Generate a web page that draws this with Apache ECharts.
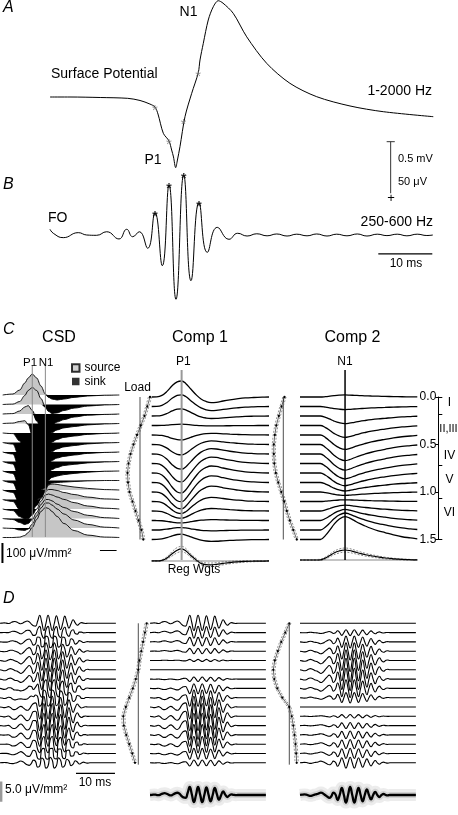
<!DOCTYPE html>
<html><head><meta charset="utf-8">
<script src="https://cdn.jsdelivr.net/npm/echarts@6.0.0/dist/echarts.min.js"></script>
<style>html,body{margin:0;padding:0;background:#fff;}#chart{width:458px;height:815px;}</style>
</head><body><div id="chart"></div>
<script>
// ================= DATA =================
// Panel A: surface potential, t (ms), potential (mV, positive plotted downward)
const aT = [0,3.7,9.3,14.39,16.67,18.5,19.44,20.0,20.99,22.04,22.53,22.87,23.27,23.6,24.07,25.0,26.24,27.46,27.78,28.39,29.31,30.24,31.17,32.04,33.94,36.43,40.13,44.44,49.39,55.56,61.72,70.98];
const aV = [0,0,0.005,0.013,0.034,0.069,0.098,0.167,0.356,0.431,0.52,0.588,0.693,0.618,0.487,0.193,-0.036,-0.238,-0.363,-0.526,-0.755,-0.885,-0.944,-0.92,-0.82,-0.59,-0.33,-0.134,-0.003,0.088,0.144,0.193];
const aStarT = [19.44,22.04,24.7,27.46];
const aStarV = [0.098,0.431,0.23,-0.238];
// Panel B: fast oscillation (250-600 Hz), t (ms), µV
const bT = [0,0.61,2.46,5.24,6.8,8.65,10.5,12.78,14.2,15.31,16.54,18.09,19.44,20.8,22.04,23.33,24.76,26.11,27.59,29.13,30.98,33.15,34.76,36.5,38.3,40.2,42.0,43.9,45.7,47.6,49.4,51.3,53.1,55.0,56.9,58.7,60.6,62.4,64.3,66.1,68.0,69.8,70.9];
const bV = [5.6,1.7,-2.6,2.3,0,-0.3,3.2,-3.9,5.6,-1.7,3.2,-13.0,21.9,-30.1,49.0,-63.0,58.8,-44.8,31.7,-17.0,7.5,-4.2,1.7,-1,1.2,-0.8,1,-1,0.8,-0.8,1,-1,0.8,-0.8,1,-1,0.8,-0.6,0.8,-0.8,0.8,-0.5,0];
const bStarT = [19.44,22.04,24.76,27.59];
const bStarV = [21.9,49.0,58.8,31.7];
// Panel C: CSD rows (µV/mm², source > 0, sink < 0), depth 0.0 .. 1.5 mm
const csdT = [0,6,10,13,15,17.4,20,22.5,25.1,27,29,32,36,42,50,60,68.6];
const csd00 = [0,5,25,60,85,105,85,45,5,-12,-20,-25,-20,-12,-5,-1,0];
const csd01 = [0,2,15,45,70,85,70,30,-15,-35,-45,-42,-30,-18,-8,-2,0];
const csd02 = [0,2,15,35,42,18,-35,-70,-78,-65,-55,-40,-28,-15,-6,-2,0];
const csd03 = [0,2,10,14,-5,-60,-120,-150,-140,-65,-45,-32,-22,-15,-7,-2,0];
const csd04 = [0,-3,-40,-100,-135,-165,-180,-180,-140,-65,-45,-32,-22,-15,-7,-2,0];
const csd05 = [0,-8,-80,-135,-160,-180,-190,-185,-140,-65,-45,-32,-22,-15,-7,-2,0];
const csd06 = [0,-10,-90,-140,-160,-175,-180,-170,-130,-60,-42,-30,-22,-15,-7,-2,0];
const csd07 = [0,-12,-90,-135,-155,-165,-165,-155,-115,-55,-40,-30,-20,-14,-7,-2,0];
const csd08 = [0,-12,-85,-125,-140,-145,-145,-130,-95,-45,-32,-25,-18,-12,-6,-1,0];
const csd09 = [0,-12,-80,-115,-125,-125,-115,-90,-50,-20,-12,-10,-8,-5,-2,0,0];
const csd10 = [0,-12,-70,-95,-100,-90,-70,-30,10,25,30,28,22,15,8,2,0];
const csd11 = [0,-10,-50,-70,-70,-55,-30,10,40,50,50,45,35,25,12,3,0];
const csd12 = [0,-8,-38,-50,-48,-30,0,40,70,75,70,60,48,32,15,4,0];
const csd13 = [0,-5,-20,-30,-25,-5,30,70,95,95,88,72,55,35,16,4,0];
const csd14 = [0,-2,-10,-12,-5,20,60,100,125,125,115,95,70,40,18,4,0];
const csd15 = [0,0,2,10,25,50,90,130,150,145,130,105,70,35,12,2,0];
const csdRows = [csd00,csd01,csd02,csd03,csd04,csd05,csd06,csd07,csd08,csd09,csd10,csd11,csd12,csd13,csd14,csd15];
const depths = [0,0.1,0.2,0.3,0.4,0.5,0.6,0.7,0.8,0.9,1.0,1.1,1.2,1.3,1.4,1.5];
// Panel C: components (waveform x load)
const compT = [0,3,6,9,12,15,17.6,20,23,26.5,29,32,35,38,42,46,50,55,60,65,69];
const comp1Wave = [0,0.01,0.1,0.35,0.7,0.95,1.0,0.85,0.5,0.1,-0.12,-0.28,-0.35,-0.33,-0.25,-0.18,-0.12,-0.06,-0.03,-0.01,0];
const comp2Wave = [0,0,0,0,0,0.18,0.42,0.66,0.88,1.0,0.94,0.82,0.7,0.6,0.48,0.38,0.3,0.2,0.12,0.07,0.03];
const comp1Load = [10,7.3,4.5,0.8,-3,-6.5,-9.5,-11.5,-12.5,-12,-10.5,-7.5,-4.5,-1.5,1.5,3.3];
const comp2Load = [1.2,-1.8,-4.5,-7,-8.5,-9.5,-9.5,-9,-7.5,-5,-2,1,3.5,6.5,10,13.5];
const loadCI = 1.6;
const regW1 = [0,0,0.05,0.25,0.6,0.9,1.0,0.85,0.45,0.05,-0.2,-0.3,-0.32,-0.28,-0.2,-0.13,-0.08,-0.04,-0.02,-0.01,0];
const regW1ci = [0.02,0.02,0.04,0.1,0.18,0.22,0.22,0.2,0.15,0.12,0.12,0.14,0.15,0.14,0.12,0.1,0.08,0.06,0.04,0.03,0.02];
const regW2 = [0,0,0,0,0.02,0.2,0.45,0.7,0.9,1.0,0.95,0.82,0.68,0.55,0.42,0.3,0.2,0.12,0.06,0.03,0.01];
const regW2ci = [0.02,0.03,0.04,0.05,0.06,0.1,0.14,0.17,0.2,0.2,0.2,0.18,0.16,0.14,0.12,0.1,0.08,0.06,0.04,0.03,0.02];
const layerNames = ['I','II,III','IV','V','VI'];
const layerEdges = [0,0.18,0.72,1.07,1.5];
// Panel D: fast-oscillation CSD components
const dT = [0,0.55,1.1,1.65,2.2,2.75,3.3,3.85,4.4,4.95,5.5,6.05,6.6,7.15,7.7,8.25,8.8,9.35,9.9,10.45,11,11.55,12.1,12.65,13.2,13.75,14.3,14.85,15.4,15.95,16.5,17.05,17.6,18.15,18.7,19.25,19.8,20.35,20.9,21.45,22,22.55,23.1,23.65,24.2,26,28,30.5];
const fo1Wave = [0,0.02,0.05,0.02,-0.03,0.05,0.18,0.22,0.15,0.02,-0.05,0.05,0.2,0.28,0.18,-0.1,-0.3,-0.35,0.25,1.0,0.1,-0.9,0,1.0,0.05,-0.9,0,0.95,0.05,-0.8,0,0.9,0.1,-0.6,-0.05,0.45,0.05,-0.25,-0.05,0.08,0.02,-0.02,0,0,0,0,0,0];
const fo2Wave = [0,0.03,0.06,0.04,-0.04,-0.08,-0.04,0.04,0.08,0.16,0.24,0.16,0,-0.16,-0.28,-0.12,0.24,0.05,-0.5,0,0.72,0,-0.76,0,0.8,0,-0.76,0,0.72,0,-0.64,0,0.56,0,-0.44,0,0.32,0,-0.2,0,0.1,0,-0.04,0,0,0,0,0];
const fo1Load = [8.4,6.6,4.8,3.0,1.2,0,-2.5,-5.5,-9,-12.5,-15,-14.5,-12,-9,-6,-3.3];
const fo2Load = [0,-4,-8,-11.5,-14.5,-16,-15,-12,-7,0,2.4,4,5.2,6.2,6.9,7.4];

// ================= BUILD =================
const FONT = '"Liberation Sans", Arial, Helvetica, sans-serif';
const grids = [], xAxes = [], yAxes = [], series = [];
function addGrid(left, top, width, height, x0, x1, yTop, yBot) {
  const i = grids.length;
  grids.push({left, top, width, height, show:false});
  xAxes.push({type:'value', gridIndex:i, min:x0, max:x1, show:false, splitLine:{show:false}});
  yAxes.push({type:'value', gridIndex:i, min:Math.min(yTop,yBot), max:Math.max(yTop,yBot), inverse: yTop < yBot, show:false, splitLine:{show:false}});
  return i;
}
function addLine(g, data, o) {
  o = o || {};
  const s = {type:'line', xAxisIndex:g, yAxisIndex:g, data, symbol:'none', silent:true, animation:false, clip:false,
    smooth: o.smooth || 0, z: o.z || 2,
    lineStyle: Object.assign({color:'#000', width:1}, o.lineStyle || {})};
  if (o.smoothMonotone) s.smoothMonotone = o.smoothMonotone;
  if (o.areaStyle) s.areaStyle = o.areaStyle;
  if (o.symbol) { s.symbol = o.symbol; s.symbolSize = o.symbolSize; s.itemStyle = o.itemStyle; s.showSymbol = true; s.showAllSymbol = true; }
  series.push(s);
  return series.length - 1;
}
function addStars(g, xs, ys, color, size, weight, dy) {
  series.push({type:'scatter', xAxisIndex:g, yAxisIndex:g, data: xs.map((x,i)=>[x, ys[i]]), symbolSize:0, silent:true, animation:false, z:5,
    label:{show:true, position:'inside', formatter:'*', color, fontSize:size, fontFamily:FONT, fontWeight:weight, offset:[0,dy]}});
}
const zip = (xs, ys) => xs.map((x,i)=>[x, ys[i]]);

// ---- Panel A ----
const gA = addGrid(50, 0, 383, 200, 0, 70.93, -0.951, 1.0098);
addLine(gA, zip(aT, aV), {smooth:0.3, lineStyle:{width:1}});
addStars(gA, aStarT, aStarV, '#777', 15, 'normal', 4);
addLine(gA, [[63.09,0.438],[63.09,0.944]], {lineStyle:{color:'#333', width:1}});
addLine(gA, [[62.35,0.438],[63.85,0.438]], {lineStyle:{color:'#333', width:1}});

// ---- Panel B ----
const gB = addGrid(50, 150, 383, 170, 0, 70.93, 83.33, -83.33);
addLine(gB, zip(bT, bV), {smooth:0.5, lineStyle:{width:1}});
addStars(gB, bStarT, bStarV, '#000', 14, 'bold', 4);
addLine(gB, [[60.8,-18.6],[70.8,-18.6]], {lineStyle:{width:1.2}});

// ---- Panel C: CSD (sink = black fill below row baseline, source = grey fill above) ----
let gLastCsd = 0;
csdRows.forEach((row, i) => {
  const yb = 395 + 95 * depths[i];
  const g = addGrid(2.7, yb - 60, 116.6, 120, 0, 68.6, 300, -300);
  gLastCsd = g;
  const hidden = {width:0, opacity:0};
  addLine(g, zip(csdT, row.map(v => Math.min(v, 0))), {smooth:0.35, smoothMonotone:'x', lineStyle:hidden, areaStyle:{color:'#000', opacity:1}});
  addLine(g, zip(csdT, row.map(v => Math.max(v, 0))), {smooth:0.35, smoothMonotone:'x', lineStyle:hidden, areaStyle:{color:'#c6c6c6', opacity:1}});
  addLine(g, zip(csdT, row), {smooth:0.35, smoothMonotone:'x', lineStyle:{width:0.9}});
});
addLine(gLastCsd, [[-0.15,-27.5],[-0.15,-127.5]], {lineStyle:{width:2}}); // 100 µV/mm² bar
const gCo = addGrid(2.7, 355, 116.6, 200, 0, 68.6, -0.42105, 1.68421);
addLine(gCo, [[17.4,-0.316],[17.4,1.495]], {lineStyle:{color:'#8a8a8a', width:1}, z:3});
addLine(gCo, [[25.1,-0.316],[25.1,1.495]], {lineStyle:{color:'#8a8a8a', width:1}, z:3});
addLine(gCo, [[57.2,1.637],[67.0,1.637]], {lineStyle:{width:1}});
series.push({type:'scatter', name:'source', xAxisIndex:gCo, yAxisIndex:gCo, data:[], itemStyle:{color:'#c6c6c6', borderColor:'#000', borderWidth:0.7}});
series.push({type:'scatter', name:'sink', xAxisIndex:gCo, yAxisIndex:gCo, data:[], itemStyle:{color:'#000'}});

// ---- Panel C: Comp 1 & Comp 2 ----
function compPanel(left, wave, load, k, lineT, lineColor, lineW, reg, regCi, regBase, regScale) {
  const g = addGrid(left, 340, 117.3, 240, 0, 69, -0.6, 1.9263);
  load.forEach((L, i) => {
    addLine(g, compT.map((t,k2) => [t, depths[i] - L * wave[k2] * k / 95]), {smooth:0.4, lineStyle:{width:1.3}});
  });
  addLine(g, [[0,regBase],[69,regBase]], {lineStyle:{color:'#b0b0b0', width:1.5}});
  addLine(g, compT.map((t,k2) => [t, regBase - (reg[k2] + regCi[k2]) * regScale / 95]), {smooth:0.4, lineStyle:{color:'#555', width:0.7, type:[2,1.5]}});
  addLine(g, compT.map((t,k2) => [t, regBase - (reg[k2] - regCi[k2]) * regScale / 95]), {smooth:0.4, lineStyle:{color:'#555', width:0.7, type:[2,1.5]}});
  addLine(g, compT.map((t,k2) => [t, regBase - reg[k2] * regScale / 95]), {smooth:0.4, lineStyle:{width:1.2}});
  addLine(g, [[lineT,-0.284],[lineT,1.716]], {lineStyle:{color:lineColor, width:lineW}, z:4});
  return g;
}
compPanel(151.7, comp1Wave, comp1Load, 1.6, 17.6, '#999', 2, regW1, regW1ci, 1.726, 12);
compPanel(300, comp2Wave, comp2Load, 1.7, 26.5, '#000', 1.5, regW2, regW2ci, 1.716, 10);

function loadPanel(zeroX, top, height, yTop, yBot, load, lineEnd) {
  const g = addGrid(zeroX - 25, top, 50, height, -25, 25, yTop, yBot);
  addLine(g, [[0,0],[0,lineEnd]], {lineStyle:{color:'#222', width:0.8}});
  addLine(g, load.map((L,i)=>[L + loadCI, depths[i]]), {lineStyle:{color:'#666', width:0.7, type:[2,1.5]}});
  addLine(g, load.map((L,i)=>[L - loadCI, depths[i]]), {lineStyle:{color:'#666', width:0.7, type:[2,1.5]}});
  addLine(g, load.map((L,i)=>[L, depths[i]]), {lineStyle:{color:'#000', width:0.6}, symbol:'circle', symbolSize:2.3, itemStyle:{color:'#000'}});
}
loadPanel(140, 340, 240, -0.6, 1.9263, comp1Load, 1.5);
loadPanel(283.3, 340, 240, -0.6, 1.9263, comp2Load, 1.5);

// depth axis
const gDepth = grids.length;
grids.push({left:438.3, top:397, width:1, height:142.5});
xAxes.push({type:'value', gridIndex:gDepth, show:false, min:0, max:1});
yAxes.push({type:'value', gridIndex:gDepth, min:0, max:1.5, interval:0.5, inverse:true,
  axisLine:{show:true, lineStyle:{color:'#000', width:1}}, axisTick:{show:true, length:3, lineStyle:{color:'#000'}},
  splitLine:{show:false}, axisLabel:{show:true, margin:2, fontSize:12, fontFamily:FONT, color:'#000', formatter:(v)=>v.toFixed(1)}});
const gLayer = grids.length;
grids.push({left:438.3, top:397, width:1, height:142.5});
xAxes.push({type:'value', gridIndex:gLayer, show:false, min:0, max:1});
yAxes.push({type:'value', gridIndex:gLayer, min:0, max:1.5, interval:100, inverse:true,
  axisLine:{show:false}, axisTick:{show:true, inside:true, length:4, customValues:layerEdges, lineStyle:{color:'#000'}},
  splitLine:{show:false}, axisLabel:{show:false}});

// ---- Panel D ----
const KD = 0.95, DPX = 93;
const dTop = -0.358, dBot = 2.0075;
const gDL = addGrid(0, 590, 116, 220, 0, 30.53, dTop, dBot);
depths.forEach((d, i) => {
  addLine(gDL, dT.map((t,k)=>[t, d - (fo1Load[i]*fo1Wave[k] + fo2Load[i]*fo2Wave[k]) * KD / DPX]), {smooth:0.5, lineStyle:{width:1.1}});
});
addLine(gDL, [[20.0,1.613],[30.26,1.613]], {lineStyle:{width:1.2}});
addLine(gDL, [[0.3,1.70],[0.3,1.92]], {lineStyle:{color:'#999', width:2.5}});
function foPanel(left, wave, load, avgScale) {
  const g = addGrid(left, 590, 116, 220, 0, 30.53, dTop, dBot);
  depths.forEach((d, i) => {
    addLine(g, dT.map((t,k)=>[t, d - load[i]*wave[k]*KD/DPX]), {smooth:0.5, lineStyle:{width:1.1}});
  });
  const avg = dT.map((t,k)=>[t, 1.846 - wave[k]*avgScale/DPX]);
  addLine(g, avg, {smooth:0.5, lineStyle:{color:'rgba(120,120,120,0.14)', width:12}});
  addLine(g, avg, {smooth:0.5, lineStyle:{color:'rgba(120,120,120,0.22)', width:6}});
  addLine(g, avg, {smooth:0.5, lineStyle:{color:'#000', width:2.3}});
}
foPanel(150, fo1Wave, fo1Load, 8);
foPanel(300, fo2Wave, fo2Load, 10);
loadPanel(138.3, 590, 220, dTop, dBot, fo1Load, 1.52);
loadPanel(289.3, 590, 220, dTop, dBot, fo2Load, 1.52);

// ================= TEXT =================
const texts = [
  ['A', 3, 8, 16, 'left', 'italic'],
  ['N1', 188.5, 12, 14],
  ['Surface Potential', 51, 74, 14, 'left'],
  ['1-2000 Hz', 432, 91, 14, 'right'],
  ['P1', 153, 160, 14],
  ['0.5 mV', 398, 159, 11, 'left'],
  ['50 \u03bcV', 398, 181.5, 11, 'left'],
  ['+', 391, 198.5, 13],
  ['B', 3, 185, 16, 'left', 'italic'],
  ['FO', 48, 218, 14, 'left'],
  ['250-600 Hz', 433, 222.5, 14, 'right'],
  ['10 ms', 406, 264, 12],
  ['C', 3, 330, 16, 'left', 'italic'],
  ['CSD', 59, 338, 16],
  ['Comp 1', 200, 338, 16],
  ['Comp 2', 352.5, 338, 16],
  ['P1', 30, 363.3, 11.5],
  ['N1', 46, 363.3, 11.5],
  ['P1', 183.3, 361.7, 12],
  ['N1', 345, 361.7, 12],
  ['Load', 137.5, 388, 12],
  ['Reg Wgts', 194, 570, 12],
  ['100 \u03bcV/mm\u00b2', 6, 554, 12, 'left'],
  ['I', 449.5, 403, 12],
  ['II,III', 448.5, 429, 11],
  ['IV', 449.5, 456, 12],
  ['V', 449.5, 480, 12],
  ['VI', 449.5, 513, 12],
  ['D', 3, 598.5, 16, 'left', 'italic'],
  ['5.0 \u03bcV/mm\u00b2', 5, 790, 12, 'left'],
  ['10 ms', 95, 782.5, 12]
];
const graphicEls = texts.map(([s, x, y, size, align, style]) => ({
  type:'text', x, y, silent:true, z:100,
  style:{text:s, font:(style||'normal') + ' ' + size + 'px ' + FONT, fill:'#000',
    textAlign: align || 'center', textVerticalAlign:'middle', align: align || 'center', verticalAlign:'middle'}
}));

const option = {
  animation:false,
  backgroundColor:'#fff',
  grid: grids, xAxis: xAxes, yAxis: yAxes, series,
  legend: {show:true, data:['source','sink'], orient:'vertical', left:71, top:362, itemWidth:7.5, itemHeight:7.5, itemGap:1.5,
    icon:'rect', selectedMode:false, padding:0, textStyle:{fontSize:12, fontFamily:FONT, color:'#000'}},
  graphic: {elements: graphicEls}
};
const chart = echarts.init(document.getElementById('chart'), null, {renderer:'canvas', width:458, height:815});
chart.setOption(option);
</script></body></html>
